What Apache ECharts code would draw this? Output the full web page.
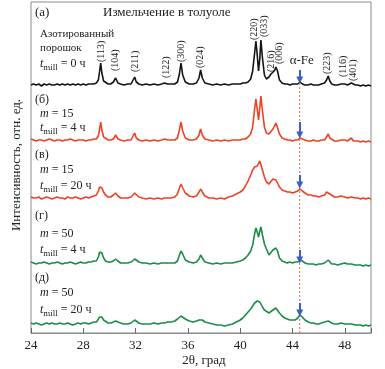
<!DOCTYPE html>
<html><head><meta charset="utf-8">
<script src="https://cdn.jsdelivr.net/npm/echarts@6/dist/echarts.min.js"></script>
<style>html,body{margin:0;padding:0;background:#fff}#c{width:385px;height:369px}</style>
</head><body><div id="c"></div><script>
// 2θ sampling grid (degrees)
const twoTheta = [
 24.0,24.2,24.4,24.6,24.8,25.0,25.2,25.4,25.6,25.8,26.0,26.2,26.4,26.6,26.8,27.0,27.2,27.4,27.6,27.8,28.0,28.2,28.4,28.6,28.8,
 29.0,29.15,29.25,29.33,29.42,29.55,29.7,29.9,
 30.1,30.3,30.47,30.65,30.85,
 31.1,31.4,31.65,31.8,31.93,32.05,32.25,32.5,
 32.8,33.1,33.4,33.7,34.0,34.2,34.32,34.45,34.7,
 35.0,35.2,35.35,35.47,35.6,35.8,36.1,36.4,
 36.65,36.85,36.97,37.1,37.3,37.6,
 37.9,38.2,38.5,38.8,39.1,39.4,39.7,40.0,
 40.2,40.4,40.6,40.8,40.95,41.1,41.2,41.3,41.4,41.5,41.58,41.7,41.85,42.0,
 42.2,42.35,42.5,42.6,42.73,42.85,43.0,43.2,
 43.4,43.6,43.8,44.0,44.2,44.4,44.57,44.75,44.95,45.2,
 45.4,45.6,45.8,46.0,46.2,46.45,46.6,46.73,46.85,47.0,
 47.2,47.45,47.7,47.85,48.0,48.2,48.35,48.5,48.65,48.8,
 49.0,49.2,49.4,49.6,49.8,50.0
];
// (а) nitrided powder, t = 0 h (stacked intensity, arb. units)
const traceA = [
 248,249,248,249,247,249,248,249,248,248,249,248,249,248,249,248,249,248,249,248,249,248,249,249,249,
 250,253,262,270,260,252,250,249,
 249,251,255,250,249,
 248,249,249,251,256,251,249,248,
 249,248,249,248,249,250,252,249,249,
 249,251,259,270,258,251,249,249,
 250,255,263,255,250,249,
 248,249,248,249,248,249,249,249,
 250,250,251,254,262,280,292,278,262,275,293,275,258,254,
 256,259,261,262,266,262,253,250,
 249,249,248,249,249,249,251,249,248,248,
 249,248,248,248,249,250,253,257,252,249,
 248,248,249,251,249,248,249,250,248,248,
 248,247,248,247,248,247
];
// (б) m = 15, 4 h
const traceB = [
 194,193,192,193,193,192,193,194,193,192,193,193,192,193,193,194,193,192,193,193,193,192,193,193,194,
 194,197,204,211,203,196,194,193,
 193,194,198,194,193,
 192,193,193,195,200,195,193,192,
 193,192,193,192,193,194,196,193,193,
 193,195,203,211,202,195,193,193,
 194,198,204,198,194,193,
 192,193,192,193,192,193,193,193,
 194,194,196,199,206,224,234,224,213,226,237,222,206,200,
 199,201,204,206,210,208,199,195,
 194,193,193,192,193,193,195,194,193,192,
 192,193,192,192,193,193,196,199,195,193,
 192,192,193,195,193,192,193,195,192,192,
 192,191,192,191,192,191
];
// (в) m = 15, 20 h
const traceV = [
 136,135,135,136,134,135,136,135,134,135,136,135,135,134,136,135,135,136,135,134,135,136,135,136,137,
 138,142,146,147,145,141,138,136,
 136,138,140,137,135,
 135,135,136,138,140,139,136,135,
 134,135,134,135,134,135,136,135,135,
 136,139,145,149,145,140,137,136,
 137,141,144,141,137,135,
 135,134,135,134,136,137,139,141,
 143,147,152,158,163,166,168,167,168,172,171,163,156,151,
 149,151,154,155,153,150,146,143,
 142,141,141,140,141,142,144,142,140,138,
 138,137,137,136,137,138,141,140,139,137,
 136,136,137,137,136,135,136,136,135,135,
 135,134,135,134,135,134
];
// (г) m = 50, 4 h
const traceG = [
 71,70,69,70,70,71,70,69,70,70,71,70,69,70,70,71,70,69,70,71,70,70,71,71,72,
 72,76,81,83,80,75,72,71,
 71,72,74,72,70,
 70,70,71,72,74,73,71,70,
 70,69,70,69,70,70,72,70,70,
 70,72,78,82,79,73,71,70,
 71,74,78,75,71,70,
 69,70,69,70,70,70,71,72,
 73,75,78,82,88,99,105,101,96,102,106,98,89,84,
 78,80,83,84,85,82,75,72,
 71,70,71,70,71,71,73,72,70,69,
 69,69,68,69,69,70,72,73,71,69,
 69,68,69,71,70,69,69,69,68,68,
 68,68,67,68,67,68
];
// (д) m = 50, 20 h
const traceD = [
 10,9,10,9,8,9,10,9,10,9,9,10,9,9,10,9,8,9,10,9,10,10,9,10,11,
 11,13,16,17,16,13,11,10,
 10,11,12,11,10,
 9,9,10,11,13,12,10,9,
 9,9,10,9,10,10,11,11,11,
 12,14,16,17,16,14,12,11,
 12,13,14,13,11,10,
 9,8,8,7,8,9,11,13,
 15,18,21,24,27,30,31,32,32,31,29,26,23,21,
 20,21,23,24,25,23,20,17,
 15,14,13,13,13,15,18,16,13,11,
 10,10,9,9,10,11,12,12,11,10,
 9,9,10,10,9,9,9,9,8,8,
 8,8,7,8,7,8
];
const xTickValues = [24,28,32,36,40,44,48];
const alphaFe = 44.55;
const guideSpan = [0,249];
// arrow start / end (intensity units) above each pattern
const arrowFrom = [263,211,158,83,30];
const arrowTo   = [253,198,148,73,20];
// peak labels: text, 2θ, label foot (intensity units)
const peakNames = ['(113)','(104)','(211)','(122)','(300)','(024)','(220)','(033)','(216)','(006)','(223)','(116)','(401)'];
const peakPos   = [29.35,30.42,31.95,34.32,35.47,36.92,41.05,41.82,42.35,42.96,46.7,47.85,48.69];
const peakFoot  = [271,262,261,255,271,265,293,296,261,269,259,256,252];

const SERIF = '"Liberation Serif","DejaVu Serif",serif';
const chart = echarts.init(document.getElementById('c'), null, {renderer:'canvas'});
const toData = arr => twoTheta.map((x,i)=>[x,arr[i]]);
const mkLine = (name, arr, color) => ({
  type:'line', name, data: toData(arr), showSymbol:false, symbol:'none',
  itemStyle:{color}, lineStyle:{color, width:1.6}, z:3, silent:true
});
const arrowData = arrowFrom.map((f,i)=>[{coord:[alphaFe,f]},{coord:[alphaFe,arrowTo[i]]}]);

chart.setOption({
  animation:false,
  backgroundColor:'#fff',
  grid:{left:31, right:14, top:2, bottom:36, show:true, borderColor:'#8a8a8a', borderWidth:1},
  xAxis:{type:'value', min:24, max:50, interval:4,
    axisLine:{show:true, lineStyle:{color:'#8a8a8a'}},
    axisTick:{show:true, inside:true, length:5, lineStyle:{color:'#666'}},
    axisLabel:{color:'#222', fontFamily:SERIF, fontSize:13, margin:6,
      formatter: v => xTickValues.includes(v) ? String(v) : ''},
    splitLine:{show:false}},
  yAxis:{type:'value', min:0, max:331, show:false},
  series:[
    {type:'line', data: guideSpan.map(v=>[alphaFe,v]), silent:true, z:2, showSymbol:false, symbol:'none',
      itemStyle:{color:'#e8604c'},
      lineStyle:{color:'#e8604c', type:[2,2], width:1}},
    mkLine('а', traceA, '#151515'),
    mkLine('б', traceB, '#ee4125'),
    mkLine('в', traceV, '#ee4125'),
    mkLine('г', traceG, '#1d8c47'),
    mkLine('д', traceD, '#1d8c47'),
    {type:'line', data:[], silent:true, z:5, itemStyle:{color:'#3d5fc0'},
      markLine:{silent:true, symbol:['none','triangle'], symbolSize:[7,7], label:{show:false},
        itemStyle:{color:'#3d5fc0'},
        lineStyle:{color:'#3d5fc0', type:'solid', width:2},
        data: arrowData}}
  ]
});

const txt = (x,y,text,size,extra) => Object.assign({type:'text', x, y, silent:true,
  style:Object.assign({text, font:`${size}px ${SERIF}`, fill:'#222', textAlign:'left', textVerticalAlign:'middle'}, extra||{})}, {});
const tmill = (x,y,rest) => ({type:'text', x, y, silent:true, style:{
  text:`{i|t}{s|mill}{n| = ${rest}}`, textAlign:'left', textVerticalAlign:'middle', fill:'#222',
  rich:{ i:{font:`italic 12px ${SERIF}`, fill:'#222'},
         s:{font:`9px ${SERIF}`, fill:'#222', padding:[7,0,0,0]},
         n:{font:`12px ${SERIF}`, fill:'#222'} }}});
const mline = (x,y,rest) => ({type:'text', x, y, silent:true, style:{
  text:`{i|m}{n| = ${rest}}`, textAlign:'left', textVerticalAlign:'middle', fill:'#222',
  rich:{ i:{font:`italic 12px ${SERIF}`, fill:'#222'}, n:{font:`12px ${SERIF}`, fill:'#222'} }}});

const g = [];
g.push(txt(35,13,'(а)',13));
g.push(txt(103,13,'Измельчение в толуоле',13));
g.push(txt(40,34,'Азотированный',11));
g.push(txt(40,48,'порошок',11));
g.push(tmill(40,64,'0 ч'));
g.push(txt(35,100,'(б)',12)); g.push(mline(40,114,'15')); g.push(tmill(40,128,'4 ч'));
g.push(txt(35,155,'(в)',12)); g.push(mline(40,170,'15')); g.push(tmill(40,186,'20 ч'));
g.push(txt(35,216,'(г)',12)); g.push(mline(40,234,'50')); g.push(tmill(40,250,'4 ч'));
g.push(txt(35,278,'(д)',12)); g.push(mline(40,293,'50')); g.push(tmill(40,310,'20 ч'));
// peak labels
peakNames.forEach((n,i)=>{
  const p = chart.convertToPixel({gridIndex:0},[peakPos[i],peakFoot[i]]);
  g.push({type:'text', x:p[0], y:p[1], rotation:Math.PI/2, silent:true,
    style:{text:n, font:`10px ${SERIF}`, fill:'#222', textAlign:'left', textVerticalAlign:'middle'}});
});
const fe = chart.convertToPixel({gridIndex:0},[alphaFe,272]);
g.push(txt(fe[0]-10, fe[1], 'α-Fe', 13));
// axis titles
g.push({type:'text', x:204, y:361, silent:true, style:{text:'2θ, град', font:`13px ${SERIF}`, fill:'#222', textAlign:'center', textVerticalAlign:'middle'}});
g.push({type:'text', x:17, y:165, rotation:Math.PI/2, silent:true, style:{text:'Интенсивность, отн. ед.', font:`13px ${SERIF}`, fill:'#222', textAlign:'center', textVerticalAlign:'middle'}});
chart.setOption({graphic:{elements:g}});
</script></body></html>
